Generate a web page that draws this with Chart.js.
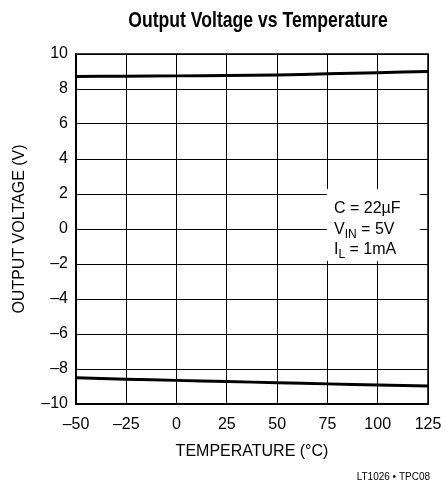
<!DOCTYPE html>
<html>
<head>
<meta charset="utf-8">
<script src="https://cdn.jsdelivr.net/npm/chart.js@4"></script>
<style>
  html, body { margin: 0; padding: 0; background: #fff; }
  #wrap { width: 445px; height: 491px; }
</style>
</head>
<body>
<div id="wrap"><canvas id="myChart" width="445" height="491"></canvas></div>
<script>
const FONT = '"Liberation Sans", Arial, sans-serif';

const temps = [-50, -25, 0, 25, 50, 75, 100, 125];
const vHigh = [8.72, 8.73, 8.75, 8.77, 8.8, 8.87, 8.93, 9.0];
const vLow = [-8.5, -8.58, -8.65, -8.72, -8.78, -8.85, -8.91, -8.97];
const xTicks = [-50, -25, 0, 25, 50, 75, 100, 125];
const yTicks = [-10, -8, -6, -4, -2, 0, 2, 4, 6, 8, 10];

function toPoints(ys){
    return temps.map((t, i) => ({ x: t, y: ys[i] }));
}

function minus(v){
    return String(v).replace('-', '\u2013');
}

// condensed bold title, note box with subscripts, figure code
const notes = {
    id: 'notes',
    afterDraw(chart){
        const c = chart.ctx;
        c.save();
        c.fillStyle = '#000';
        c.font = 'bold 22px ' + FONT;
        c.textAlign = 'center';
        c.textBaseline = 'middle';
        c.save();
        c.translate(258, 21);
        c.scale(0.8, 1);
        c.fillText('Output Voltage vs Temperature', 0, 0);
        c.restore();

        c.fillStyle = '#fff';
        c.fillRect(327, 189, 93, 72);
        c.fillStyle = '#000';
        c.textBaseline = 'alphabetic';
        c.textAlign = 'left';
        c.font = '16px ' + FONT;
        let x = 334;
        c.fillText('C = 22\u00b5F', x, 213);
        c.fillText('V', x, 234);
        let w = c.measureText('V').width;
        c.font = '12px ' + FONT;
        c.fillText('IN', x + w, 238);
        let w2 = c.measureText('IN').width;
        c.font = '16px ' + FONT;
        c.fillText(' = 5V', x + w + w2, 234);
        c.fillText('I', x, 254);
        w = c.measureText('I').width;
        c.font = '12px ' + FONT;
        c.fillText('L', x + w, 258);
        w2 = c.measureText('L').width;
        c.font = '16px ' + FONT;
        c.fillText(' = 1mA', x + w + w2, 254);

        c.font = '10px ' + FONT;
        c.textAlign = 'right';
        c.fillText('LT1026 \u2022 TPC08', 430, 480);

        // plot frame
        const a = chart.chartArea;
        c.strokeStyle = '#000';
        c.lineWidth = 1.5;
        c.strokeRect(a.left, a.top, a.right - a.left, a.bottom - a.top);
        c.restore();
    }
};

const ctx = document.getElementById('myChart').getContext('2d');

const myChart = new Chart(ctx, {
    type: 'scatter',
    data: {
        datasets: [{
            data: toPoints(vHigh),
            showLine: true,
            borderColor: '#000',
            borderWidth: 3,
            pointRadius: 0,
            tension: 0.3
        }, {
            data: toPoints(vLow),
            showLine: true,
            borderColor: '#000',
            borderWidth: 3,
            pointRadius: 0,
            tension: 0.3
        }]
    },
    options: {
        responsive: false,
        animation: false,
        layout: { padding: { left: 0, right: 17, top: 54, bottom: 0 } },
        plugins: {
            legend: { display: false },
            tooltip: { enabled: false },
            title: { display: false }
        },
        scales: {
            x: {
                type: 'linear',
                min: -50,
                max: 125,
                afterBuildTicks: (s) => { s.ticks = xTicks.map(v => ({ value: v })); },
                afterFit: (s) => { s.height = 87; s.paddingLeft = 0; s.paddingRight = 0; },
                grid: { color: '#000', lineWidth: 1, drawTicks: false },
                border: { color: '#000', width: 1.5 },
                ticks: {
                    color: '#000',
                    padding: 11,
                    font: { family: FONT, size: 16 },
                    callback: (v) => minus(v)
                },
                title: {
                    display: true,
                    text: 'TEMPERATURE (\u00b0C)',
                    color: '#000',
                    font: { family: FONT, size: 16 },
                    padding: { top: 4, bottom: 30 }
                }
            },
            y: {
                min: -10,
                max: 10,
                afterBuildTicks: (s) => { s.ticks = yTicks.map(v => ({ value: v })); },
                afterFit: (s) => { s.width = 76; s.paddingTop = 0; s.paddingBottom = 0; },
                grid: { color: '#000', lineWidth: 1, drawTicks: false },
                border: { color: '#000', width: 1.5 },
                ticks: {
                    color: '#000',
                    padding: 8,
                    font: { family: FONT, size: 16 },
                    callback: (v) => minus(v)
                },
                title: {
                    display: true,
                    text: 'OUTPUT VOLTAGE (V)',
                    color: '#000',
                    font: { family: FONT, size: 16 },
                    padding: { top: 10, bottom: 4 }
                }
            }
        }
    },
    plugins: [notes]
});
</script>
</body>
</html>
